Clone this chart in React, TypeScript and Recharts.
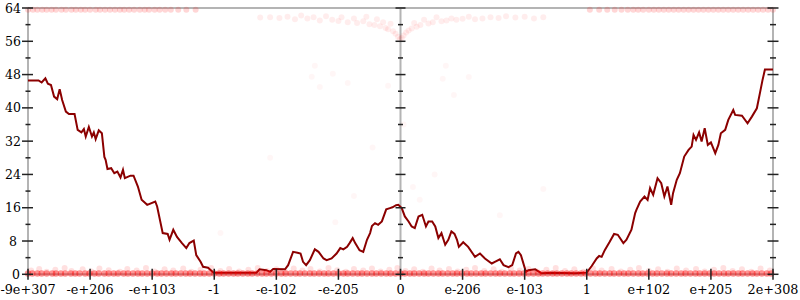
import React from "react";
import { ComposedChart, Line, Scatter, XAxis, YAxis, ReferenceLine } from "recharts";

// x positions are evenly spaced category slots -6..6 labelled with the original tick text
const xTickValues = [-6, -5, -4, -3, -2, -1, 0, 1, 2, 3, 4, 5, 6];
const xTickLabels = ["-9e+307", "-e+206", "-e+103", "-1", "-e-102", "-e-205", "0", "e-206", "e-103", "1", "e+102", "e+205", "2e+308"];
const yTickValues = [0, 8, 16, 24, 32, 40, 48, 56, 64];
const yMinorTicks = [0, 4, 8, 12, 16, 20, 24, 28, 32, 36, 40, 44, 48, 52, 56, 60, 64];

// average error line
const lineX = [
  -6, -5.83, -5.78, -5.72, -5.68, -5.63, -5.58, -5.53, -5.49, -5.45, -5.39, -5.34, -5.25, -5.2, -5.14, -5.1, -5.07, -5.02, -4.97, -4.94,
  -4.91, -4.86, -4.81, -4.77, -4.75, -4.72, -4.66, -4.61, -4.56, -4.51, -4.47, -4.44, -4.35, -4.3, -4.23, -4.17, -4.08, -3.95, -3.92, -3.83,
  -3.75, -3.72, -3.66, -3.6, -3.52, -3.45, -3.4, -3.33, -3.29, -3.22, -3.18, -3.1, -3.01, -2.83, -2.32, -2.27, -2.16, -2.1, -2.05, -1.86,
  -1.81, -1.73, -1.66, -1.61, -1.57, -1.52, -1.46, -1.38, -1.32, -1.24, -1.19, -1.11, -1.03, -0.97, -0.92, -0.86, -0.82, -0.77, -0.73, -0.66,
  -0.6, -0.54, -0.49, -0.46, -0.41, -0.36, -0.3, -0.23, -0.17, -0.13, -0.07, -0.035, 0.02, 0.07, 0.13, 0.18, 0.23, 0.29, 0.35, 0.41,
  0.45, 0.51, 0.56, 0.61, 0.66, 0.72, 0.77, 0.82, 0.87, 0.91, 0.94, 1.01, 1.09, 1.2, 1.28, 1.36, 1.47, 1.52, 1.6, 1.66,
  1.74, 1.8, 1.86, 1.9, 1.94, 2.02, 2.06, 2.17, 2.27, 2.44, 2.81, 3.0, 3.08, 3.16, 3.2, 3.24, 3.29, 3.37, 3.44, 3.5,
  3.59, 3.64, 3.72, 3.78, 3.8, 3.86, 3.93, 3.98, 4.02, 4.07, 4.14, 4.2, 4.25, 4.3, 4.36, 4.39, 4.45, 4.5, 4.57, 4.64,
  4.69, 4.72, 4.76, 4.81, 4.85, 4.9, 4.95, 5.0, 5.07, 5.12, 5.16, 5.23, 5.28, 5.36, 5.39, 5.5, 5.59, 5.66, 5.74, 5.79,
  5.83, 5.87, 6,
];
const lineY = [
  46.6, 46.6, 46.1, 47.1, 45.8, 45.5, 42.7, 42.1, 44.5, 41.9, 39.1, 38.5, 38.5, 34.7, 34.1, 34.9, 33.1, 35.4, 33.1, 34.1,
  32.5, 34.6, 33.9, 28.2, 27.5, 25.3, 25.5, 24.3, 24.7, 23.3, 25.1, 23.1, 23.7, 23.7, 21.1, 17.9, 16.7, 17.5, 16.3, 9.9,
  9.7, 8.3, 10.7, 9.0, 7.5, 6.3, 7.5, 8.1, 4.6, 3.0, 1.8, 1.6, 0.4, 0.4, 0.4, 1.2, 1.0, 0.6, 1.3, 1.2,
  2.2, 5.4, 5.2, 5.0, 3.0, 2.2, 3.4, 6.0, 5.4, 3.8, 3.4, 3.8, 5.0, 6.3, 6.0, 6.6, 7.5, 8.7, 7.5, 5.8,
  5.4, 8.3, 9.9, 11.6, 12.3, 11.9, 12.7, 15.6, 15.9, 16.1, 16.6, 16.7, 15.9, 13.9, 12.7, 11.5, 11.1, 13.9, 14.3, 11.5,
  12.7, 12.7, 11.5, 8.7, 9.9, 7.1, 8.3, 10.3, 9.7, 8.3, 6.6, 7.7, 6.6, 4.2, 5.0, 3.8, 2.6, 3.0, 3.6, 2.2,
  1.7, 2.2, 5.0, 5.4, 4.6, 0.6, 1.0, 1.2, 0.24, 0.4, 0.24, 0.4, 2.0, 3.8, 4.4, 4.2, 5.8, 7.8, 9.7, 9.5,
  7.5, 8.3, 10.7, 14.7, 15.5, 17.5, 18.7, 17.9, 20.7, 19.1, 23.1, 21.9, 18.7, 21.1, 16.7, 19.5, 22.7, 24.3, 28.3, 29.9,
  30.7, 33.5, 32.3, 34.1, 31.9, 35.1, 31.1, 31.7, 29.1, 31.1, 33.9, 34.7, 37.1, 39.5, 38.3, 38.1, 36.3, 37.9, 39.9, 43.6,
  46.6, 49.2, 49.2,
];

// sample points with (nearly) zero error
const zeroX = [
  -6, -5.93, -5.85, -5.78, -5.7, -5.61, -5.55, -5.47, -5.4, -5.31, -5.24, -5.17, -5.08, -5.01, -4.93, -4.86, -4.77, -4.7, -4.62, -4.55,
  -4.46, -4.39, -4.31, -4.23, -4.16, -4.08, -4.0, -3.92, -3.85, -3.77, -3.69, -3.62, -3.54, -3.46, -3.39, -3.31, -3.23, -3.16, -3.08, -3.0,
  -2.92, -2.85, -2.77, -2.69, -2.62, -2.54, -2.46, -2.39, -2.31, -2.23, -2.16, -2.08, -2.0, -1.92, -1.85, -1.77, -1.69, -1.62, -1.54, -1.46,
  -1.39, -1.31, -1.23, -1.16, -1.08, -1.0, -0.92, -0.85, -0.77, -0.69, -0.62, -0.54, -0.46, -0.39, -0.31, -0.23, -0.16, -0.08, 0, 0.07,
  0.15, 0.22, 0.3, 0.38, 0.45, 0.53, 0.61, 0.68, 0.76, 0.84, 0.91, 0.99, 1.07, 1.14, 1.22, 1.3, 1.37, 1.45, 1.53, 1.6,
  1.68, 1.76, 1.83, 1.91, 1.99, 2.06, 2.14, 2.22, 2.29, 2.37, 2.45, 2.52, 2.6, 2.68, 2.75, 2.83, 2.91, 2.98, 3.06, 3.14,
  3.21, 3.29, 3.37, 3.44, 3.52, 3.6, 3.67, 3.75, 3.83, 3.9, 3.98, 4.06, 4.13, 4.21, 4.29, 4.36, 4.44, 4.52, 4.59, 4.67,
  4.75, 4.82, 4.9, 4.98, 5.05, 5.13, 5.21, 5.28, 5.36, 5.44, 5.51, 5.59, 5.67, 5.74, 5.82, 5.9, 5.97,
];
const zeroY = 0.2;

// low-error samples just above zero
const lowX = [
  -5.95, -5.82, -5.7, -5.56, -5.41, -5.3, -5.12, -4.98, -4.85, -4.7, -4.52, -4.4, -4.25, -4.1, -3.96, -3.8, -3.66, -3.5, -3.37, -3.22,
  -3.05, -2.9, -2.76, -2.6, -2.45, -2.3, -2.15, -2.0, -1.86, -1.72, -1.58, -1.45, -1.3, -1.16, -1.02, -0.88, -0.75, -0.6, -0.46, -0.32,
  -0.18, -0.05, 0.08, 0.22, 0.36, 0.5, 0.63, 0.78, 0.92, 1.06, 1.2, 1.35, 1.5, 1.63, 1.78, 1.92, 2.06, 2.2, 2.35, 2.5,
  2.65, 2.8, 2.95, 3.1, 3.24, 3.4, 3.55, 3.7, 3.84, 4.0, 4.15, 4.3, 4.45, 4.6, 4.76, 4.9, 5.05, 5.2, 5.35, 5.5,
  5.65, 5.8, 5.95,
];
const lowY = [
  0.9, 1.3, 0.6, 1.1, 1.5, 0.8, 1.2, 0.7, 1.4, 1.0, 0.6, 1.3, 0.9, 1.5, 0.7, 1.2, 0.9, 1.4, 0.6, 1.1,
  1.5, 0.8, 1.3, 0.7, 1.1, 1.5, 0.8, 1.2, 0.6, 1.4, 0.9, 1.3, 0.7, 1.5, 1.0, 0.6, 1.3, 0.9, 1.4, 0.7,
  1.1, 1.5, 0.8, 1.2, 0.6, 1.4, 0.9, 1.3, 0.7, 1.1, 1.5, 0.8, 1.2, 0.6, 1.4, 0.9, 1.3, 0.7, 1.1, 1.5,
  0.8, 1.2, 0.6, 1.4, 0.9, 1.3, 0.7, 1.1, 1.5, 0.8, 1.2, 0.6, 1.4, 0.9, 1.3, 0.7, 1.1, 1.5, 0.8, 1.2,
  0.6, 1.4, 0.9,
];

// samples with full (64-bit) error
const fullX = [
  -6, -5.92, -5.85, -5.77, -5.7, -5.62, -5.55, -5.46, -5.39, -5.3, -5.23, -5.15, -5.08, -5.0, -4.91, -4.84, -4.76, -4.68, -4.6, -4.52,
  -4.45, -4.37, -4.29, -4.2, -4.12, -4.05, -3.96, -3.88, -3.79, -3.7, -3.58, -3.45, -3.3,
  3.05, 3.2, 3.33, 3.45, 3.56, 3.66, 3.75, 3.83, 3.91, 4.0, 4.08, 4.16, 4.24, 4.32, 4.4, 4.48, 4.56, 4.64, 4.72, 4.8,
  4.88, 4.96, 5.04, 5.12, 5.2, 5.28, 5.36, 5.44, 5.52, 5.6, 5.68, 5.76, 5.84, 5.92, 6,
];
const fullY = 63.6;

// high-error samples around the origin
const highX = [
  -2.26, -2.1, -1.95, -1.82, -1.7, -1.6, -1.5, -1.4, -1.3, -1.2, -1.1, -1.0, -0.95, -0.85, -0.75, -0.7, -0.6, -0.55, -0.5, -0.42,
  -0.38, -0.33, -0.28, -0.24, -0.2, -0.16, -0.12, -0.08, -0.04, -0.01, 0.02, 0.05, 0.09, 0.13, 0.18, 0.22, 0.26, 0.32, 0.38, 0.45,
  0.52, 0.58, 0.66, 0.74, 0.82, 0.9, 1.0, 1.1, 1.2, 1.32, 1.45, 1.58, 1.7, 1.85, 2.0, 2.15, 2.3,
];
const highY = [
  61.7, 61.8, 61.6, 61.9, 61.3, 62.2, 61.5, 61.8, 61.0, 62.0, 61.2, 60.9, 61.8, 60.6, 61.5, 60.4, 60.8, 61.9, 60.1, 59.9,
  61.3, 59.6, 60.6, 59.2, 58.9, 60.2, 58.4, 57.8, 57.1, 56.5, 56.8, 57.4, 58.1, 58.6, 59.1, 60.4, 59.5, 59.9, 61.2, 60.3,
  60.6, 61.8, 60.8, 61.0, 61.5, 61.2, 61.4, 61.9, 61.3, 61.5, 61.8, 61.6, 62.0, 61.7, 61.9, 61.5, 61.8,
];

// scattered intermediate-error samples
const midX = [-1.38, -1.09, -1.43, -1.3, -0.85, -0.2, 0.73, 0.68, 1.1, 0.86, 0.2, -0.75, 0.31, -2.9, -1.05, 0.55, -0.45, 1.6, -2.1, 2.3, -3.3, 0.05];
const midY = [50.1, 48.2, 47.5, 45.0, 46.0, 45.3, 50.1, 47.0, 47.4, 43.1, 21.0, 18.8, 17.9, 9.9, 12.5, 24.0, 30.5, 14.2, 28.0, 20.5, 4.0, 36.0];

const lineData = lineX.map((x, i) => ({ x, y: lineY[i] }));
const zeroData = zeroX.map((x) => ({ x, y: zeroY }));
const lowData = lowX.map((x, i) => ({ x, y: lowY[i] }));
const fullData = fullX.map((x) => ({ x, y: fullY }));
const highData = highX.map((x, i) => ({ x, y: highY[i] }));
const midData = midX.map((x, i) => ({ x, y: midY[i] }));

const leftTickData = yMinorTicks.map((y) => ({ x: -6, y }));
const centerTickData = yMinorTicks.map((y) => ({ x: 0, y }));
const rightTickData = yMinorTicks.map((y) => ({ x: 6, y }));
const bottomTickData = xTickValues.map((x) => ({ x, y: 0 }));

const FONT = "DejaVu Serif, Liberation Serif, serif";
const AXIS_GRAY = "#b4b4b4";
const TICK = "#222";

const dot = (r: number, opacity: number) => (p: any) =>
  <circle cx={p.cx} cy={p.cy} r={r} fill="#ff0000" fillOpacity={opacity} />;

const hTick = (before: number, after: number, minorBefore: number, minorAfter: number) => (p: any) => {
  const v = p.payload ? p.payload.y : p.y;
  const major = v % 8 === 0;
  const b = major ? before : minorBefore;
  const a = major ? after : minorAfter;
  return <line x1={p.cx - b} x2={p.cx + a} y1={p.cy} y2={p.cy} stroke={TICK} strokeWidth={1.5} />;
};

const vTick = (p: any) => <line x1={p.cx} x2={p.cx} y1={p.cy - 5.5} y2={p.cy + 5.5} stroke={TICK} strokeWidth={1.5} />;

const YTick = (p: any) => {
  const v = p.payload.value;
  return (
    <text x={p.x - 15 + (v === 0 ? 3 : 0)} y={p.y + 4.5} textAnchor="middle" style={{ fontFamily: FONT, fontSize: 12.5 }} fill="#000">
      {v}
    </text>
  );
};

const XTick = (p: any) => {
  const i = xTickValues.indexOf(p.payload.value);
  return (
    <text x={p.x} y={p.y + 20} textAnchor="middle" style={{ fontFamily: FONT, fontSize: 12.8 }} fill="#000">
      {xTickLabels[i]}
    </text>
  );
};

export default function App() {
  return (
    <div style={{ position: "absolute", left: 0, top: 0, width: 800, height: 300, background: "#fff" }}>
      <ComposedChart width={800} height={300} margin={{ top: 8, right: 27, left: 0, bottom: 0 }}>
        <XAxis
          type="number"
          dataKey="x"
          domain={[-6, 6]}
          ticks={xTickValues}
          height={25.7}
          axisLine={false}
          tickLine={false}
          tickSize={0}
          tickMargin={0}
          tick={XTick}
          interval={0}
        />
        <YAxis
          type="number"
          dataKey="y"
          domain={[0, 64]}
          ticks={yTickValues}
          width={28}
          axisLine={false}
          tickLine={false}
          tickSize={0}
          tickMargin={0}
          tick={YTick}
          interval={0}
        />
        <ReferenceLine y={64} stroke={AXIS_GRAY} strokeWidth={2} />
        <ReferenceLine y={0} stroke={AXIS_GRAY} strokeWidth={2} />
        <ReferenceLine x={-6} stroke={AXIS_GRAY} strokeWidth={2} />
        <ReferenceLine x={0} stroke={AXIS_GRAY} strokeWidth={2} />
        <ReferenceLine x={6} stroke={AXIS_GRAY} strokeWidth={2} />
        <Scatter data={zeroData} dataKey="y" shape={dot(3.2, 0.42)} isAnimationActive={false} />
        <Scatter data={lowData} dataKey="y" shape={dot(3, 0.12)} isAnimationActive={false} />
        <Scatter data={fullData} dataKey="y" shape={dot(3, 0.16)} isAnimationActive={false} />
        <Scatter data={highData} dataKey="y" shape={dot(3, 0.07)} isAnimationActive={false} />
        <Scatter data={midData} dataKey="y" shape={dot(3, 0.035)} isAnimationActive={false} />
        <Line data={lineData} dataKey="y" type="linear" stroke="#8b0000" strokeWidth={2} dot={false} isAnimationActive={false} />
        <Scatter data={leftTickData} dataKey="y" shape={hTick(6, 5, 2.5, 2.5)} isAnimationActive={false} />
        <Scatter data={centerTickData} dataKey="y" shape={hTick(5, 5, 2.5, 2.5)} isAnimationActive={false} />
        <Scatter data={rightTickData} dataKey="y" shape={hTick(5.5, 5.5, 3, 3)} isAnimationActive={false} />
        <Scatter data={bottomTickData} dataKey="y" shape={vTick} isAnimationActive={false} />
      </ComposedChart>
    </div>
  );
}
